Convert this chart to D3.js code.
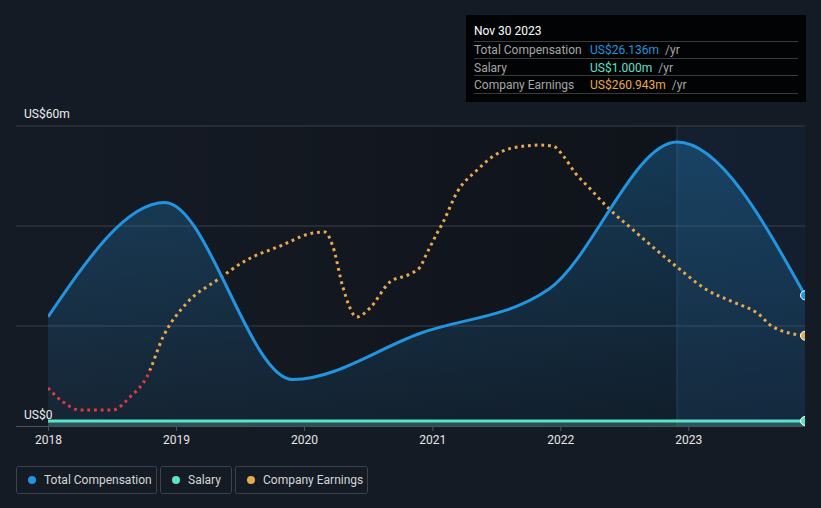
<!DOCTYPE html>
<html><head><meta charset="utf-8">
<script src="https://cdn.jsdelivr.net/npm/d3@7"></script>
<style>
html,body{margin:0;padding:0;background:#151b25;}
svg{display:block;font-family:Roboto,"Noto Sans",sans-serif;}
</style></head><body>
<svg id="c" width="821" height="508"></svg>
<script>
// ---- data ----
const compDates = ["2018-01-01","2018-11-30","2019-11-30","2020-11-30","2021-11-30","2022-11-30","2023-11-30"];
const compValues = [21.8,44.7,9.3,18.6,27.4,56.8,26.136];
const salaryDates = ["2018-01-01","2023-11-30"];
const salaryValues = [1.0,1.0];
const earnDates = ["2018-01-01","2018-02-13","2018-04-01","2018-07-05","2018-08-23","2018-10-10","2018-11-25","2019-02-01","2019-04-28","2019-07-22","2019-10-25","2020-01-27","2020-03-01","2020-03-24","2020-04-21","2020-05-31","2020-07-07","2020-09-02","2020-10-29","2020-11-27","2020-12-17","2021-01-15","2021-02-01","2021-03-13","2021-05-09","2021-06-24","2021-08-17","2021-11-05","2021-12-12","2022-01-10","2022-02-13","2022-03-28","2022-05-18","2022-07-28","2022-11-30","2023-02-24","2023-05-09","2023-07-17","2023-08-31","2023-11-30"];
const earnValues = [-137,-243,-304,-304,-205,-53,251,510,684,837,943,1042,1049,935,631,403,471,669,730,783,890,1042,1125,1354,1521,1627,1688,1711,1703,1627,1498,1376,1232,1065,783,608,517,433,327,260.943];
const yearTicks = ["2018","2019","2020","2021","2022","2023"];
const yLabels = ["US$0","US$60m"];
const tipTitle = "Nov 30 2023";
const tipRows = [["Total Compensation","US$26.136m"],["Salary","US$1.000m"],["Company Earnings","US$260.943m"]];
const legendItems = ["Total Compensation","Salary","Company Earnings"];

const colComp="#2394df", colSal="#5fe0c9", colEarn="#e9a94d", colNeg="#e4393f";
const seriesColors=[colComp,colSal,colEarn];

const parse=d3.timeParse("%Y-%m-%d");
const comp=compDates.map((d,i)=>({d:parse(d),v:compValues[i]}));
const sal=salaryDates.map((d,i)=>({d:parse(d),v:salaryValues[i]}));
const earn=earnDates.map((d,i)=>({d:parse(d),v:earnValues[i]}));

const L=48,R=805,T=126,B=426;
const x=d3.scaleTime().domain([parse("2018-01-01"),parse("2023-11-30")]).range([L,R]);
const y=d3.scaleLinear().domain([0,60]).range([B,T]);
const ye=d3.scaleLinear().domain([-426,1856]).range([B,T]);

const svg=d3.select("#c");
const defs=svg.append("defs");
const bgG=defs.append("linearGradient").attr("id","bgG").attr("x1",0).attr("x2",1).attr("y1",0).attr("y2",0);
bgG.append("stop").attr("offset",0).attr("stop-color","#000").attr("stop-opacity",0);
bgG.append("stop").attr("offset",1).attr("stop-color","#000").attr("stop-opacity",0.35);
const aG=defs.append("linearGradient").attr("id","aG").attr("x1",0).attr("x2",0).attr("y1",0).attr("y2",1);
aG.append("stop").attr("offset",0).attr("stop-color",colComp).attr("stop-opacity",0.3);
aG.append("stop").attr("offset",1).attr("stop-color",colComp).attr("stop-opacity",0.08);
defs.append("clipPath").attr("id","plotClip").append("rect").attr("x",L).attr("y",T-10).attr("width",R-L).attr("height",B-T+10);
defs.append("clipPath").attr("id","posClip").append("rect").attr("x",L-5).attr("y",0).attr("width",R-L+10).attr("height",ye(0));
defs.append("clipPath").attr("id","negClip").append("rect").attr("x",L-5).attr("y",ye(0)).attr("width",R-L+10).attr("height",508);

// plot background
svg.append("rect").attr("x",L).attr("y",T).attr("width",R-L).attr("height",B-T).attr("fill","url(#bgG)");
// highlight last year
const hx=x(parse("2022-11-30"));
svg.append("rect").attr("x",hx).attr("y",T).attr("width",R-hx).attr("height",B-T).attr("fill","#1c3550").attr("opacity",0.4);

// gridlines
svg.append("g").selectAll("line").data([20,40,60]).join("line")
  .attr("x1",16).attr("x2",R).attr("y1",d=>y(d)).attr("y2",d=>y(d))
  .attr("stroke","#3b414b").attr("stroke-width",1);
svg.append("line").attr("x1",hx).attr("x2",hx).attr("y1",T).attr("y2",B).attr("stroke","#2a3a4c").attr("stroke-width",1);

const g=svg.append("g").attr("clip-path","url(#plotClip)");
// comp area
g.append("path").datum(comp).attr("fill","url(#aG)")
  .attr("d",d3.area().x(d=>x(d.d)).y0(y(0)).y1(d=>y(d.v)).curve(d3.curveMonotoneX));
// salary area + line
g.append("path").datum(sal).attr("fill",colSal).attr("opacity",0.25)
  .attr("d",d3.area().x(d=>x(d.d)).y0(y(0)).y1(d=>y(d.v)));
g.append("path").datum(sal).attr("fill","none").attr("stroke",colSal).attr("stroke-width",3)
  .attr("d",d3.line().x(d=>x(d.d)).y(d=>y(d.v)));
// earnings dotted
const eLine=d3.line().x(d=>x(d.d)).y(d=>ye(d.v)).curve(d3.curveMonotoneX);
g.append("g").attr("clip-path","url(#posClip)").append("path").datum(earn).attr("fill","none")
  .attr("stroke",colEarn).attr("stroke-width",3).attr("stroke-dasharray","2.8 3.9").attr("d",eLine);
g.append("g").attr("clip-path","url(#negClip)").append("path").datum(earn).attr("fill","none")
  .attr("stroke",colNeg).attr("stroke-width",3).attr("stroke-dasharray","2.8 3.9").attr("d",eLine);
// comp line
g.append("path").datum(comp).attr("fill","none").attr("stroke",colComp).attr("stroke-width",3)
  .attr("d",d3.line().x(d=>x(d.d)).y(d=>y(d.v)).curve(d3.curveMonotoneX));
// end markers
const last=[[comp[comp.length-1].d,y(comp[comp.length-1].v),colComp],[earn[earn.length-1].d,ye(earn[earn.length-1].v),colEarn],[sal[sal.length-1].d,y(sal[sal.length-1].v),colSal]];
g.selectAll("circle.m").data(last).join("circle").attr("cx",d=>x(d[0])).attr("cy",d=>d[1]).attr("r",4.5)
  .attr("fill",d=>d[2]).attr("stroke","#fff").attr("stroke-width",1);

// x axis
const ax=svg.append("g").attr("transform",`translate(0,${B})`)
  .call(d3.axisBottom(x).tickValues(yearTicks.map(t=>parse(t+"-01-01"))).tickFormat(d3.timeFormat("%Y")).tickSize(5).tickPadding(4));
ax.select(".domain").attr("stroke","#4a505a").attr("d",`M16,0.5H${R}`);
ax.selectAll(".tick line").attr("stroke","#4a505a");
ax.selectAll("text").attr("fill","#e6e6e6").attr("font-size",12).attr("font-family","Roboto");

// y labels
svg.append("text").attr("x",24).attr("y",y(0)-7).text(yLabels[0]).attr("fill","#eee").attr("font-size",12);
svg.append("text").attr("x",24).attr("y",y(60)-8).text(yLabels[1]).attr("fill","#eee").attr("font-size",12);

// tooltip
const tp=svg.append("g");
tp.append("rect").attr("x",466).attr("y",15).attr("width",340).attr("height",87).attr("fill","#020304");
tp.append("text").attr("x",474).attr("y",35).text(tipTitle).attr("fill","#fff").attr("font-size",12);
const lineYs=[41.5,58.5,75.5,93.5];
tp.selectAll("line").data(lineYs).join("line").attr("x1",474).attr("x2",798).attr("y1",d=>d).attr("y2",d=>d).attr("stroke","#3a3a3a");
tipRows.forEach((r,i)=>{
  const yy=54+i*17.5;
  tp.append("text").attr("x",474).attr("y",yy).text(r[0]).attr("fill","#a6a6a6").attr("font-size",12);
  const t=tp.append("text").attr("x",590).attr("y",yy).attr("font-size",12);
  t.append("tspan").text(r[1]).attr("fill",seriesColors[i]);
  t.append("tspan").text(" /yr").attr("fill","#a6a6a6").attr("dx",3);
});

// legend
const lg=[{x:16,w:140},{x:160,w:71},{x:235,w:132}];
legendItems.forEach((n,i)=>{
  const o=lg[i];
  svg.append("rect").attr("x",o.x+0.5).attr("y",466.5).attr("width",o.w).attr("height",27).attr("rx",2)
    .attr("fill","none").attr("stroke","#3d434d");
  svg.append("circle").attr("cx",o.x+16).attr("cy",480).attr("r",4).attr("fill",seriesColors[i]);
  svg.append("text").attr("x",o.x+28).attr("y",484).text(n).attr("fill","#d6d6d6").attr("font-size",12);
});
</script></body></html>
